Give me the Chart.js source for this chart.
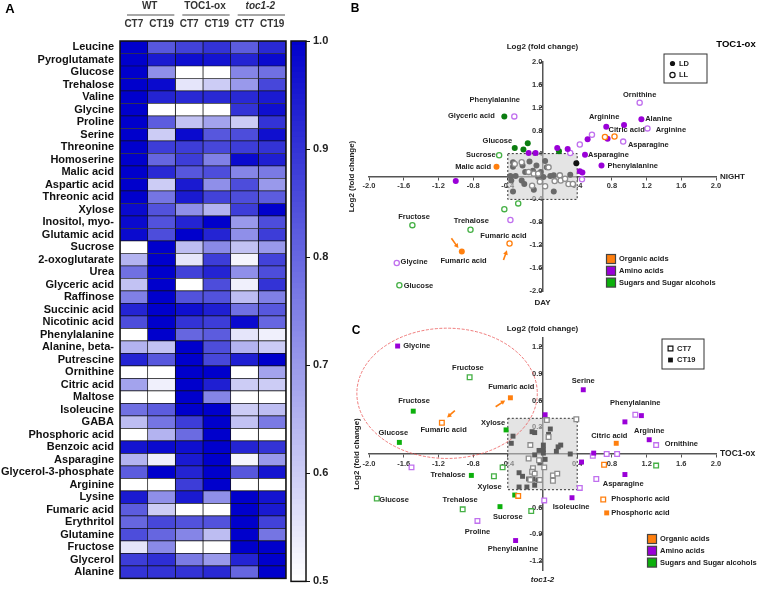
<!DOCTYPE html>
<html>
<head>
<meta charset="utf-8">
<script src="https://cdn.jsdelivr.net/npm/chart.js@4.4.1/dist/chart.umd.min.js"></script>
<style>
  html, body { margin: 0; padding: 0; background: #fff; }
  #wrap { position: relative; width: 760px; height: 591px; overflow: hidden; }
  #wrap canvas { position: absolute; left: 0; top: 0; }
</style>
</head>
<body>
<div id="wrap">
  <canvas id="heat" width="760" height="591"></canvas>
  <canvas id="cbar" width="760" height="591"></canvas>
  <canvas id="scB" width="760" height="591"></canvas>
  <canvas id="scC" width="760" height="591"></canvas>
</div>
<script>
// ---- panel A data ----
const metabolites = ['Leucine', 'Pyroglutamate', 'Glucose', 'Trehalose', 'Valine', 'Glycine', 'Proline', 'Serine',
  'Threonine', 'Homoserine', 'Malic acid', 'Aspartic acid', 'Threonic acid', 'Xylose', 'Inositol, myo-',
  'Glutamic acid', 'Sucrose', '2-oxoglutarate', 'Urea', 'Glyceric acid', 'Raffinose', 'Succinic acid',
  'Nicotinic acid', 'Phenylalanine', 'Alanine, beta-', 'Putrescine', 'Ornithine', 'Citric acid', 'Maltose',
  'Isoleucine', 'GABA', 'Phosphoric acid', 'Benzoic acid', 'Asparagine', 'Glycerol-3-phosphate', 'Arginine',
  'Lysine', 'Fumaric acid', 'Erythritol', 'Glutamine', 'Fructose', 'Glycerol', 'Alanine'];
const columns = ['CT7', 'CT19', 'CT7', 'CT19', 'CT7', 'CT19'];
const genotypes = ['WT', 'TOC1-ox', 'toc1-2'];

const wtCT7 = [1, 1, 1, 1, 1, 1, 1, 1, 1, 1, 1, 1, 1, 0.98, 0.98, 0.98, 0.5, 0.65, 0.78, 0.62, 0.75, 0.93,
  0.85, 0.5, 0.65, 0.93, 0.5, 0.68, 0.5, 0.78, 0.63, 0.5, 0.96, 0.65, 0.82, 0.5, 0.95, 0.82, 0.8, 0.85, 0.55, 0.88, 0.9];
const wtCT19 = [0.83, 0.95, 0.72, 0.98, 0.93, 0.5, 0.82, 0.6, 0.88, 0.8, 0.92, 0.6, 0.77, 0.84, 0.84, 0.85, 1, 1,
  1, 1, 1, 1, 1, 1, 0.62, 0.83, 0.5, 0.53, 0.5, 0.82, 0.77, 0.65, 0.98, 0.53, 1, 0.5, 0.72, 0.6, 0.86, 0.8, 0.73, 0.91, 0.9];
const oxCT7 = [0.87, 0.97, 0.5, 0.55, 0.92, 0.5, 0.62, 0.98, 0.88, 0.88, 0.83, 0.95, 0.95, 0.72, 0.93, 1, 0.63,
  0.55, 0.87, 0.5, 0.84, 0.97, 0.9, 0.8, 1, 1, 1, 1, 1, 1, 0.88, 0.79, 0.97, 0.95, 0.93, 0.88, 0.95, 0.5, 0.84, 0.74, 0.5, 0.76, 0.9];
const oxCT19 = [0.9, 0.96, 0.5, 0.6, 0.92, 0.5, 0.68, 0.83, 0.86, 0.75, 0.85, 0.72, 0.87, 0.65, 1, 0.93, 0.73,
  0.88, 0.93, 0.85, 0.84, 0.94, 0.88, 0.82, 0.85, 0.86, 1, 0.94, 0.74, 1, 1, 1, 1, 1, 1, 1, 0.72, 0.5, 0.84, 0.63, 0.5, 0.7, 0.92];
const tocCT7 = [0.82, 0.93, 0.74, 0.7, 0.92, 0.9, 0.6, 0.85, 0.88, 0.98, 0.74, 0.85, 0.85, 0.88, 0.7, 0.72, 0.62,
  0.52, 0.72, 0.53, 0.63, 0.78, 0.98, 0.55, 0.65, 0.94, 0.5, 0.6, 0.5, 0.6, 0.62, 0.5, 0.93, 0.52, 0.83, 0.5, 1, 1, 1, 1, 1, 0.93, 0.8];
const tocCT19 = [0.92, 0.98, 0.78, 0.86, 0.95, 0.97, 0.9, 0.97, 0.9, 0.94, 0.76, 0.7, 0.82, 1, 0.85, 0.88, 0.7,
  0.87, 0.85, 0.9, 0.75, 0.83, 0.8, 0.53, 0.6, 1, 0.68, 0.6, 0.5, 0.63, 0.76, 0.5, 0.9, 0.7, 0.96, 0.5, 0.96, 0.95, 0.87, 0.77, 1, 1, 1];
const heatSeries = [wtCT7, wtCT19, oxCT7, oxCT19, tocCT7, tocCT19];
const colorbarTicks = [0.5, 0.6, 0.7, 0.8, 0.9, 1.0];

// ---- panel B data (TOC1-ox, LD filled / LL open) ----
const bLdOrganic = [{x: -0.53, y: 0.17}, {x: -0.93, y: -1.31}];
const bLlOrganic = [{x: 0.72, y: 0.69}, {x: 0.83, y: 0.7}, {x: -0.38, y: -1.17}];
const bLdAmino = [{x: 1.14, y: 1.0}, {x: 0.735, y: 0.87}, {x: 0.94, y: 0.9}, {x: 0.75, y: 0.66}, {x: 0.52, y: 0.65},
  {x: 0.17, y: 0.5}, {x: 0.29, y: 0.48}, {x: -0.16, y: 0.41}, {x: -0.08, y: 0.41}, {x: 0.49, y: 0.38},
  {x: 0.68, y: 0.19}, {x: 0.43, y: 0.09}, {x: 0.46, y: 0.07}, {x: -1.0, y: -0.08}];
const bLlAmino = [{x: -0.325, y: 1.05}, {x: 1.12, y: 1.29}, {x: 1.21, y: 0.84}, {x: 0.57, y: 0.73}, {x: 0.43, y: 0.56},
  {x: 0.93, y: 0.61}, {x: 0.32, y: 0.41}, {x: 0.455, y: -0.05}, {x: -0.37, y: -0.76}, {x: -1.68, y: -1.51}];
const bLdSugar = [{x: -0.44, y: 1.05}, {x: -0.32, y: 0.5}, {x: -0.17, y: 0.58}, {x: -0.22, y: 0.47}, {x: 0.19, y: 0.44}];
const bLlSugar = [{x: -0.5, y: 0.37}, {x: -0.28, y: -0.47}, {x: -0.44, y: -0.57}, {x: -1.5, y: -0.85},
  {x: -0.83, y: -0.93}, {x: -1.65, y: -1.9}];
const bLdOther = [{x: -0.34, y: 0.25}, {x: -0.23, y: 0.19}, {x: -0.15, y: 0.26}, {x: -0.07, y: 0.19}, {x: 0.03, y: 0.27},
  {x: -0.34, y: 0.17}, {x: -0.37, y: 0.01}, {x: -0.31, y: 0.01}, {x: -0.24, y: -0.07}, {x: -0.21, y: -0.13},
  {x: -0.34, y: -0.26}, {x: -0.2, y: 0.08}, {x: -0.1, y: -0.23}, {x: -0.05, y: -0.01}, {x: 0.01, y: -0.01},
  {x: 0.05, y: 0.16}, {x: 0.13, y: 0.02}, {x: 0.32, y: 0.03}, {x: 0.13, y: -0.26}, {x: -0.11, y: 0.1},
  {x: -0.02, y: 0.08}, {x: -0.36, y: -0.07}, {x: 0.09, y: 0.01}];
const bLlOther = [{x: -0.32, y: 0.22}, {x: -0.16, y: 0.08}, {x: -0.1, y: 0.05}, {x: -0.05, y: 0.05}, {x: 0.07, y: 0.16},
  {x: 0.2, y: 0.02}, {x: 0.14, y: -0.08}, {x: 0.21, y: -0.07}, {x: 0.3, y: -0.13}, {x: 0.03, y: -0.17},
  {x: -0.12, y: -0.16}, {x: 0.35, y: -0.13}, {x: -0.03, y: -0.09}, {x: 0.26, y: -0.04}, {x: -0.24, y: 0.25}];
const bLdBlack = [{x: 0.39, y: 0.23}];
const bNotes = [['Phenylalanine', -0.55, 1.33], ['Glyceric acid', -0.82, 1.05], ['Ornithine', 1.12, 1.42],
  ['Alanine', 1.34, 1.01], ['Arginine', 0.71, 1.04], ['Citric acid', 0.97, 0.81], ['Arginine', 1.48, 0.82],
  ['Glucose', -0.52, 0.62], ['Asparagine', 1.22, 0.55], ['Sucrose', -0.71, 0.37], ['Malic acid', -0.8, 0.17],
  ['Asparagine', 0.76, 0.38], ['Phenylalanine', 1.04, 0.19], ['Fructose', -1.48, -0.71], ['Trehalose', -0.82, -0.78],
  ['Fumaric acid', -0.45, -1.03], ['Fumaric acid', -0.91, -1.47], ['Glycine', -1.48, -1.5], ['Glucose', -1.43, -1.91]];
const bArrows = [[-1.05, -1.08, -0.97, -1.25], [-0.45, -1.46, -0.41, -1.29]];
const bTicks = [-2.0, -1.6, -1.2, -0.8, -0.4, 0.4, 0.8, 1.2, 1.6, 2.0];

// ---- panel C data (CT7 open / CT19 filled) ----
const cCt19Organic = [{x: -0.37, y: 0.63}, {x: 0.85, y: 0.12}, {x: 0.74, y: -0.66}];
const cCt7Organic = [{x: -1.16, y: 0.35}, {x: 0.71, y: -0.12}, {x: -0.28, y: -0.47}, {x: 0.7, y: -0.51}];
const cCt19Amino = [{x: -1.67, y: 1.21}, {x: 0.47, y: 0.72}, {x: 0.03, y: 0.44}, {x: 1.14, y: 0.43}, {x: 0.95, y: 0.36},
  {x: 1.23, y: 0.16}, {x: 0.59, y: 0.01}, {x: 0.45, y: -0.09}, {x: 0.95, y: -0.23}, {x: 0.34, y: -0.49}, {x: -0.31, y: -0.97}];
const cCt7Amino = [{x: 1.07, y: 0.44}, {x: 1.31, y: 0.1}, {x: 0.58, y: -0.02}, {x: 0.74, y: 0.0}, {x: 0.86, y: 0.0},
  {x: -1.51, y: -0.15}, {x: 0.62, y: -0.28}, {x: 0.43, y: -0.38}, {x: 0.02, y: -0.52}, {x: -0.75, y: -0.75}];
const cCt19Sugar = [{x: -1.49, y: 0.48}, {x: -0.42, y: 0.27}, {x: -1.65, y: 0.13}, {x: -0.82, y: -0.24},
  {x: -0.32, y: -0.46}, {x: -0.49, y: -0.59}];
const cCt7Sugar = [{x: -0.84, y: 0.86}, {x: 1.31, y: -0.13}, {x: -0.56, y: -0.25}, {x: -0.46, y: -0.15},
  {x: -1.91, y: -0.5}, {x: -0.92, y: -0.62}, {x: -0.13, y: -0.64}];
const cCt19Other = [{x: -0.34, y: 0.2}, {x: -0.36, y: 0.12}, {x: -0.12, y: 0.25}, {x: -0.09, y: 0.24}, {x: 0.09, y: 0.28},
  {x: 0.07, y: 0.22}, {x: 0.18, y: 0.08}, {x: 0.21, y: 0.1}, {x: 0.16, y: 0.03}, {x: 0.32, y: 0.0}, {x: 0.01, y: 0.05},
  {x: -0.04, y: 0.04}, {x: -0.09, y: -0.01}, {x: 0.01, y: 0.01}, {x: 0.03, y: -0.06}, {x: -0.03, y: -0.1},
  {x: -0.27, y: -0.21}, {x: -0.23, y: -0.25}, {x: -0.16, y: -0.28}, {x: -0.11, y: -0.28}, {x: -0.05, y: -0.29},
  {x: -0.18, y: -0.37}, {x: -0.27, y: -0.37}, {x: -0.09, y: -0.35}, {x: 0.01, y: 0.1}];
const cCt7Other = [{x: 0.05, y: 0.38}, {x: 0.39, y: 0.39}, {x: -0.14, y: 0.1}, {x: 0.07, y: 0.19}, {x: -0.16, y: -0.05},
  {x: -0.04, y: -0.07}, {x: -0.11, y: -0.16}, {x: -0.12, y: -0.2}, {x: -0.09, y: -0.22}, {x: -0.14, y: -0.29},
  {x: 0.12, y: -0.24}, {x: 0.17, y: -0.22}, {x: 0.12, y: -0.3}, {x: -0.03, y: -0.29}, {x: 0.02, y: -0.15}];
const cNotes = [['Glycine', -1.45, 1.21], ['Fructose', -0.86, 0.97], ['Fumaric acid', -0.36, 0.75],
  ['Fructose', -1.48, 0.59], ['Fumaric acid', -1.14, 0.27], ['Xylose', -0.57, 0.35], ['Serine', 0.47, 0.82],
  ['Phenylalanine', 1.07, 0.57], ['Glucose', -1.72, 0.24], ['Arginine', 1.23, 0.26], ['Citric acid', 0.77, 0.2],
  ['Ornithine', 1.6, 0.11], ['Trehalose', -1.09, -0.23], ['Asparagine', 0.93, -0.33], ['Xylose', -0.61, -0.37],
  ['Glucose', -1.71, -0.51], ['Trehalose', -0.95, -0.52], ['Phosphoric acid', 1.13, -0.5],
  ['Phosphoric acid', 1.13, -0.66], ['Isoleucine', 0.33, -0.59], ['Sucrose', -0.4, -0.71], ['Proline', -0.75, -0.87],
  ['Phenylalanine', -0.34, -1.06]];
const cArrows = [[-1.01, 0.485, -1.1, 0.41], [-0.54, 0.53, -0.43, 0.6]];
const cXTicks = [-2.0, -1.6, -1.2, -0.8, -0.4, 0.4, 0.8, 1.2, 1.6, 2.0];
const cYTicks = [-1.2, -0.9, -0.6, -0.3, 0.3, 0.6, 0.9, 1.2];
const groupNames = ['Organic acids', 'Amino acids', 'Sugars and Sugar alcohols'];

// ---- styling ----
const FONT = "'Liberation Sans', Arial, sans-serif";
const ORANGE = '#ff7f0e', PURPLE = '#9a00d8', PURPLE_LT = '#c070ee';
const GREEN_B = '#0b7d10', GREEN_C = '#0cb00c', GREEN_LT = '#45b045';
Chart.defaults.font.family = FONT;
Chart.defaults.animation = false;
Chart.defaults.plugins.legend.display = false;
Chart.defaults.plugins.tooltip.enabled = false;

function heatColor(v) {
  const t = Math.max(0, Math.min(1, (v - 0.5) / 0.5));
  const r = Math.round(255 * (1 - t));
  const b = Math.round(255 - 51 * t);
  return `rgb(${r},${r},${b})`;
}

// ---- A: heatmap ----
const heatHeader = {
  id: 'heatHeader',
  afterDraw(chart) {
    const {ctx, chartArea: a, scales: {x}} = chart;
    ctx.save();
    ctx.strokeStyle = '#111';
    ctx.lineWidth = 1.5;
    ctx.strokeRect(a.left, a.top, a.right - a.left, a.bottom - a.top);
    ctx.textAlign = 'center';
    ctx.textBaseline = 'middle';
    genotypes.forEach((g, i) => {
      const l = x.getPixelForValue(2 * i), r = x.getPixelForValue(2 * i + 2);
      ctx.fillStyle = '#333';
      ctx.font = (i === 2 ? 'italic ' : '') + 'bold 10px ' + FONT;
      ctx.fillText(g, (l + r) / 2 + 2, 6);
      ctx.strokeStyle = '#8a8a8a';
      ctx.lineWidth = 1.3;
      ctx.beginPath();
      ctx.moveTo(l + 7, 15);
      ctx.lineTo(r - 1, 15);
      ctx.stroke();
    });
    ctx.fillStyle = '#000';
    ctx.font = 'bold 13px ' + FONT;
    ctx.fillText('A', 10, 9);
    ctx.restore();
  }
};

new Chart(document.getElementById('heat'), {
  type: 'bar',
  data: {
    labels: metabolites,
    datasets: heatSeries.map(vals => ({
      data: vals.map(() => 1),
      backgroundColor: vals.map(heatColor),
      borderColor: '#111',
      borderWidth: 0.7,
      borderSkipped: false,
      barPercentage: 1,
      categoryPercentage: 1
    }))
  },
  options: {
    responsive: false,
    indexAxis: 'y',
    layout: {padding: {left: 0, top: 0, right: 474, bottom: 8}},
    scales: {
      x: {
        type: 'linear', position: 'top', stacked: true, min: 0, max: 6,
        grid: {display: false, drawTicks: false}, border: {display: false},
        afterBuildTicks: s => { s.ticks = columns.map((c, i) => ({value: i + 0.5})); },
        afterFit: s => { s.height = 41; },
        ticks: {callback: (v, i) => columns[i], font: {size: 10, weight: 'bold'}, color: '#333',
          padding: 11, maxRotation: 0, autoSkip: false}
      },
      y: {
        stacked: true,
        grid: {display: false, drawTicks: false}, border: {display: false},
        afterFit: s => { s.width = 120; },
        ticks: {autoSkip: false, font: {size: 11, weight: 'bold'}, color: '#111', padding: 6}
      }
    }
  },
  plugins: [heatHeader]
});

// colour scale: thin floating bars stacked along the 0.5..1.0 axis, each painted with its own shade
const rampLo = colorbarTicks[0], rampHi = colorbarTicks[colorbarTicks.length - 1];
const rampSteps = 100;
const rampSets = [];
for (let i = 0; i < rampSteps; i++) {
  const a = rampLo + (rampHi - rampLo) * i / rampSteps;
  const b = rampLo + (rampHi - rampLo) * (i + 1) / rampSteps;
  rampSets.push({
    data: [[a, b + 0.001]],
    backgroundColor: heatColor((a + b) / 2),
    borderWidth: 0,
    grouped: false,
    barPercentage: 1,
    categoryPercentage: 1
  });
}
const rampFrame = {
  id: 'rampFrame',
  afterDatasetsDraw(chart) {
    const {ctx, chartArea: a} = chart;
    ctx.save();
    ctx.strokeStyle = '#111';
    ctx.lineWidth = 1.5;
    ctx.strokeRect(a.left, a.top, a.right - a.left, a.bottom - a.top);
    ctx.restore();
  }
};

new Chart(document.getElementById('cbar'), {
  type: 'bar',
  data: {labels: [''], datasets: rampSets},
  options: {
    responsive: false,
    layout: {padding: {left: 291, right: 426, top: 41, bottom: 5}},
    scales: {
      x: {display: false},
      y: {
        position: 'right', min: rampLo, max: rampHi,
        afterBuildTicks: s => { s.ticks = colorbarTicks.map(v => ({value: v})); },
        afterFit: s => { s.width = 28; },
        grid: {drawOnChartArea: false, tickLength: 4, color: '#111'},
        border: {display: false},
        ticks: {callback: v => v.toFixed(1), font: {size: 11, weight: 'bold'}, color: '#222', padding: 3}
      }
    }
  },
  plugins: [rampFrame]
});

// ---- B and C: scatter panels ----
function pts(data, color, open, style, r) {
  return {
    data, pointStyle: style, pointRadius: r, pointHoverRadius: r,
    backgroundColor: open ? '#fff' : color, borderColor: color, borderWidth: open ? 1.3 : 0
  };
}

function axisOpts(pos, min, max, tickList) {
  return {
    type: 'linear', position: pos, min, max,
    afterBuildTicks: s => { s.ticks = tickList.map(v => ({value: v})); },
    grid: {drawOnChartArea: false, tickLength: 3, color: '#555'},
    border: {color: '#555', width: 1.5},
    ticks: {callback: v => v.toFixed(1), font: {size: 7.5, weight: 'bold'}, color: '#333', padding: 2, autoSkip: false}
  };
}

function drawMarker(ctx, shape, x, y, color, open) {
  ctx.beginPath();
  if (shape === 'circle') ctx.arc(x, y, 2.6, 0, Math.PI * 2);
  else ctx.rect(x - 2.4, y - 2.4, 4.8, 4.8);
  ctx.fillStyle = open ? '#fff' : color;
  ctx.fill();
  if (open) { ctx.strokeStyle = color; ctx.lineWidth = 1.2; ctx.stroke(); }
}

function panelPlugin(cfg) {
  return {
    id: 'panel' + cfg.letter,
    beforeDatasetsDraw(chart) {
      const {ctx, scales: {x, y}} = chart;
      ctx.save();
      const l = x.getPixelForValue(-0.4), r = x.getPixelForValue(0.4);
      const t = y.getPixelForValue(0.4), b = y.getPixelForValue(-0.4);
      ctx.fillStyle = 'rgba(205,205,205,0.55)';
      ctx.fillRect(l, t, r - l, b - t);
      ctx.setLineDash([2, 2]);
      ctx.strokeStyle = '#333';
      ctx.lineWidth = 1;
      ctx.strokeRect(l, t, r - l, b - t);
      if (cfg.ellipse) {
        const [ex, ey, rx, ry] = cfg.ellipse;
        const cx = x.getPixelForValue(ex), cy = y.getPixelForValue(ey);
        ctx.setLineDash([3, 1.5]);
        ctx.strokeStyle = 'rgba(235,90,90,0.8)';
        ctx.beginPath();
        ctx.ellipse(cx, cy, Math.abs(x.getPixelForValue(ex + rx) - cx), Math.abs(y.getPixelForValue(ey + ry) - cy), 0, 0, Math.PI * 2);
        ctx.stroke();
      }
      ctx.restore();
    },
    afterDatasetsDraw(chart) {
      const {ctx, chartArea: a, scales: {x, y}} = chart;
      const x0 = x.getPixelForValue(0), y0 = y.getPixelForValue(0);
      ctx.save();
      ctx.textAlign = 'center';
      ctx.textBaseline = 'middle';
      ctx.fillStyle = '#222';
      ctx.font = 'bold 7.5px ' + FONT;
      cfg.notes.forEach(([txt, nx, ny]) => ctx.fillText(txt, x.getPixelForValue(nx), y.getPixelForValue(ny)));

      // arrows
      ctx.strokeStyle = ORANGE;
      ctx.fillStyle = ORANGE;
      ctx.lineWidth = 1.6;
      cfg.arrows.forEach(([ax, ay, bx, by]) => {
        const x1 = x.getPixelForValue(ax), y1 = y.getPixelForValue(ay);
        const x2 = x.getPixelForValue(bx), y2 = y.getPixelForValue(by);
        const ang = Math.atan2(y2 - y1, x2 - x1);
        ctx.beginPath();
        ctx.moveTo(x1, y1);
        ctx.lineTo(x2 - 3 * Math.cos(ang), y2 - 3 * Math.sin(ang));
        ctx.stroke();
        ctx.beginPath();
        ctx.moveTo(x2, y2);
        ctx.lineTo(x2 - 5 * Math.cos(ang - 0.5), y2 - 5 * Math.sin(ang - 0.5));
        ctx.lineTo(x2 - 5 * Math.cos(ang + 0.5), y2 - 5 * Math.sin(ang + 0.5));
        ctx.closePath();
        ctx.fill();
      });

      // titles
      ctx.fillStyle = '#222';
      ctx.font = 'bold 8px ' + FONT;
      ctx.fillText('Log2 (fold change)', x0, a.top - cfg.topGap);
      ctx.font = (cfg.bottomItalic ? 'italic ' : '') + 'bold 8px ' + FONT;
      ctx.fillText(cfg.bottom, x0, a.bottom + cfg.bottomGap);
      ctx.font = 'bold ' + cfg.rightSize + 'px ' + FONT;
      ctx.textAlign = 'left';
      ctx.fillText(cfg.right, a.right + cfg.rightGap, y0);
      ctx.font = 'bold 8px ' + FONT;
      ctx.save();
      ctx.translate(a.left - cfg.sideGap, y0);
      ctx.rotate(-Math.PI / 2);
      ctx.textAlign = 'center';
      ctx.fillText('Log2 (fold change)', 0, 0);
      ctx.restore();
      ctx.font = 'bold 12px ' + FONT;
      ctx.fillStyle = '#000';
      ctx.textAlign = 'center';
      ctx.fillText(cfg.letter, cfg.letterPos[0], cfg.letterPos[1]);
      if (cfg.title) {
        ctx.font = 'bold 9.5px ' + FONT;
        ctx.fillText(cfg.title, cfg.titlePos[0], cfg.titlePos[1]);
      }

      // symbol legend
      const [bx, by, bw, bh] = cfg.legendBox;
      ctx.strokeStyle = '#333';
      ctx.lineWidth = 1;
      ctx.setLineDash([]);
      ctx.strokeRect(bx, by, bw, bh);
      ctx.font = 'bold 7.5px ' + FONT;
      ctx.textAlign = 'left';
      cfg.legendItems.forEach(([txt, open], i) => {
        const ly = by + 9.5 + i * 11.5;
        drawMarker(ctx, cfg.shape, bx + 8.5, ly, '#111', open);
        ctx.fillStyle = '#222';
        ctx.fillText(txt, bx + 15, ly);
      });

      // group legend
      const [gx, gy] = cfg.groupPos;
      [ORANGE, PURPLE, GREEN_C].forEach((col, i) => {
        const ly = gy + i * 11.8;
        ctx.fillStyle = col;
        ctx.fillRect(gx - 4.5, ly - 4.5, 9, 9);
        ctx.strokeStyle = '#444';
        ctx.strokeRect(gx - 4.5, ly - 4.5, 9, 9);
        ctx.fillStyle = '#222';
        ctx.fillText(groupNames[i], gx + 8, ly);
      });
      ctx.restore();
    }
  };
}

new Chart(document.getElementById('scB'), {
  type: 'scatter',
  data: {
    datasets: [
      pts(bLlOther, '#8c8c8c', true, 'circle', 2.6),
      pts(bLdOther, '#6a6a6a', false, 'circle', 3),
      pts(bLdBlack, '#111', false, 'circle', 3),
      pts(bLdOrganic, ORANGE, false, 'circle', 3),
      pts(bLlOrganic, ORANGE, true, 'circle', 2.6),
      pts(bLdAmino, PURPLE, false, 'circle', 3),
      pts(bLlAmino, PURPLE_LT, true, 'circle', 2.6),
      pts(bLdSugar, GREEN_B, false, 'circle', 3),
      pts(bLlSugar, GREEN_LT, true, 'circle', 2.6)
    ]
  },
  options: {
    responsive: false,
    layout: {padding: {left: 369, right: 44, top: 62, bottom: 300}},
    scales: {
      x: axisOpts({y: 0}, -2, 2, bTicks),
      y: axisOpts({x: 0}, -2, 2, bTicks)
    }
  },
  plugins: [panelPlugin({
    letter: 'B', letterPos: [355, 9], title: 'TOC1-ox', titlePos: [736, 44],
    notes: bNotes, arrows: bArrows, shape: 'circle',
    topGap: 15, bottom: 'DAY', bottomGap: 12, right: 'NIGHT', rightSize: 8, rightGap: 4, sideGap: 17,
    legendBox: [664, 54, 43, 29], legendItems: [['LD', false], ['LL', true]],
    groupPos: [611, 259]
  })]
});

new Chart(document.getElementById('scC'), {
  type: 'scatter',
  data: {
    datasets: [
      pts(cCt7Other, '#8c8c8c', true, 'rect', 3.3),
      pts(cCt19Other, '#5a5a5a', false, 'rect', 3.5),
      pts(cCt19Organic, ORANGE, false, 'rect', 3.5),
      pts(cCt7Organic, ORANGE, true, 'rect', 3.3),
      pts(cCt19Amino, PURPLE, false, 'rect', 3.5),
      pts(cCt7Amino, PURPLE_LT, true, 'rect', 3.3),
      pts(cCt19Sugar, GREEN_C, false, 'rect', 3.5),
      pts(cCt7Sugar, GREEN_LT, true, 'rect', 3.3)
    ]
  },
  options: {
    responsive: false,
    layout: {padding: {left: 369, right: 44, top: 338, bottom: 21}},
    scales: {
      x: axisOpts({y: 0}, -2, 2, cXTicks),
      y: axisOpts({x: 0}, -1.3, 1.3, cYTicks)
    }
  },
  plugins: [panelPlugin({
    letter: 'C', letterPos: [356, 331], title: null,
    notes: cNotes, arrows: cArrows, shape: 'rect', ellipse: [-1.1, 0.68, 1.04, 0.73],
    topGap: 9, bottom: 'toc1-2', bottomItalic: true, bottomGap: 10, right: 'TOC1-ox', rightSize: 8.5, rightGap: 4, sideGap: 12,
    legendBox: [662, 339, 42, 30], legendItems: [['CT7', true], ['CT19', false]],
    groupPos: [652, 539]
  })]
});
</script>
</body>
</html>
